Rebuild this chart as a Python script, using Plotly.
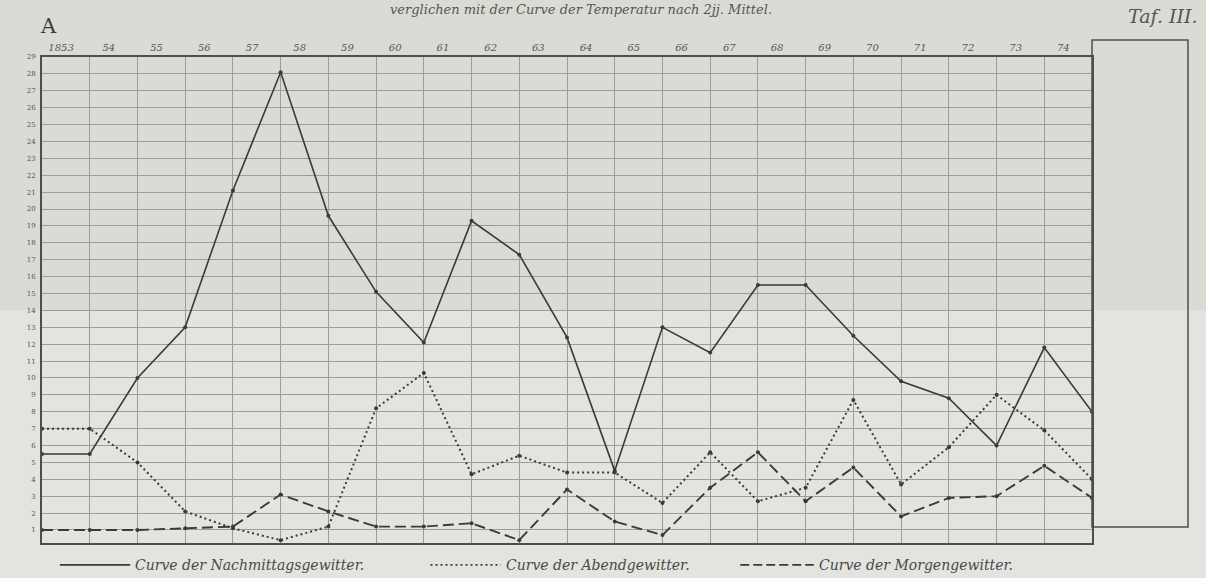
import plotly.graph_objects as go

# Jahrgänge (Punkte auf den senkrechten Linien) und Beschriftung oben
years = list(range(1853, 1876))
year_labels = ["1853", "54", "55", "56", "57", "58", "59", "60", "61", "62", "63",
               "64", "65", "66", "67", "68", "69", "70", "71", "72", "73", "74"]

# Anzahl der Gewitter je Jahr
nachmittag = [5.5, 5.5, 10.0, 13.0, 21.1, 28.1, 19.6, 15.1, 12.1, 19.3, 17.3, 12.4,
              4.5, 13.0, 11.5, 15.5, 15.5, 12.5, 9.8, 8.8, 6.0, 11.8, 8.0]
abend = [7.0, 7.0, 5.0, 2.1, 1.1, 0.4, 1.2, 8.2, 10.3, 4.3, 5.4, 4.4,
         4.4, 2.6, 5.6, 2.7, 3.5, 8.7, 3.7, 5.9, 9.0, 6.9, 4.0]
morgen = [1.0, 1.0, 1.0, 1.1, 1.2, 3.1, 2.1, 1.2, 1.2, 1.4, 0.4, 3.4,
          1.5, 0.7, 3.5, 5.6, 2.7, 4.7, 1.8, 2.9, 3.0, 4.8, 2.9]

y_ticks = list(range(1, 30))

ink = "#3a3a38"
grid = "#9c9c98"
serif = "DejaVu Serif"

fig = go.Figure()

fig.add_trace(go.Scatter(x=years, y=nachmittag, mode="lines+markers",
                         line=dict(color=ink, width=1.6),
                         marker=dict(size=4, color=ink), cliponaxis=False,
                         showlegend=False))
fig.add_trace(go.Scatter(x=years, y=abend, mode="lines+markers",
                         line=dict(color=ink, width=2, dash="2px,3px"),
                         marker=dict(size=4, color=ink), cliponaxis=False,
                         showlegend=False))
fig.add_trace(go.Scatter(x=years, y=morgen, mode="lines+markers",
                         line=dict(color=ink, width=1.9, dash="11px,5px"),
                         marker=dict(size=4, color=ink), cliponaxis=False,
                         showlegend=False))
# unsichtbare Spur für die obere Jahresachse
fig.add_trace(go.Scatter(x=[years[0], years[-1]], y=[1, 1], xaxis="x2",
                         mode="markers", marker=dict(opacity=0),
                         showlegend=False, hoverinfo="skip"))

label_shift = 0.40
fig.update_layout(
    width=1206, height=578, autosize=False,
    margin=dict(l=42, r=114, t=57, b=35),
    paper_bgcolor="#dbdbd6", plot_bgcolor="rgba(0,0,0,0)",
    xaxis=dict(range=[1853, 1875], dtick=1, tick0=1853, showgrid=True,
               gridcolor=grid, gridwidth=1, showticklabels=False, ticks="",
               zeroline=False, showline=True, linecolor="#4e4e4b", linewidth=1.5,
               mirror=True),
    xaxis2=dict(range=[1853, 1875], overlaying="x", side="top",
                tickmode="array",
                tickvals=[y + label_shift for y in years[:len(year_labels)]],
                ticktext=["<i>" + t + "</i>" for t in year_labels],
                showgrid=False, ticks="", zeroline=False,
                tickfont=dict(family=serif, size=10, color="#555552"),
                ticklabelstandoff=3),
    yaxis=dict(range=[0.23, 29], tickmode="array", tickvals=y_ticks,
               ticktext=[str(v) for v in y_ticks], showgrid=True,
               gridcolor=grid, gridwidth=1, zeroline=False, ticks="",
               tickfont=dict(family=serif, size=7, color="#555552"),
               showline=True, linecolor="#4e4e4b", linewidth=2, mirror=True,
               ticklabelstandoff=3),
)

# Papierton: obere Hälfte etwas dunkler (Faltung)
fig.add_shape(type="rect", xref="paper", yref="paper", x0=-0.05, x1=1.12,
              y0=-0.08, y1=0.479, fillcolor="#e3e3df", line=dict(width=0),
              layer="below")
# leeres Feld rechts neben dem Netz
fig.add_shape(type="rect", xref="paper", yref="paper", x0=1.0, x1=1.0914,
              y0=0.033, y1=1.035, fillcolor="rgba(0,0,0,0)",
              line=dict(color="#4e4e4b", width=1.5))

# Legende unten
legend_y = -0.045
legend_items = [
    ("solid", 0.017, 0.084, "Curve der Nachmittagsgewitter."),
    ("2px,3px", 0.37, 0.437, "Curve der Abendgewitter."),
    ("9px,4px", 0.665, 0.735, "Curve der Morgengewitter."),
]
for dash, lx0, lx1, label in legend_items:
    fig.add_shape(type="line", xref="paper", yref="paper", x0=lx0, x1=lx1,
                  y0=legend_y, y1=legend_y,
                  line=dict(color=ink, width=1.6, dash=dash))
    fig.add_annotation(xref="paper", yref="paper", x=lx1 + 0.003, y=legend_y,
                       xanchor="left", yanchor="middle", showarrow=False,
                       text="<i>" + label + "</i>",
                       font=dict(family=serif, size=14, color="#4a4a47"))

# Kopfzeile
fig.add_annotation(xref="paper", yref="paper", x=0.513, y=1.097,
                   xanchor="center", yanchor="middle", showarrow=False,
                   text="<i>verglichen mit der Curve der Temperatur nach 2jj. Mittel.</i>",
                   font=dict(family=serif, size=13, color="#555552"))
fig.add_annotation(xref="paper", yref="paper", x=-0.004, y=1.064,
                   xanchor="left", yanchor="middle", showarrow=False,
                   text="A", font=dict(family=serif, size=21, color="#3a3a38"))
fig.add_annotation(xref="paper", yref="paper", x=1.103, y=1.085,
                   xanchor="right", yanchor="middle", showarrow=False,
                   text="<i>Taf. III.</i>",
                   font=dict(family=serif, size=19, color="#555552"))

fig.write_html("out.html")
